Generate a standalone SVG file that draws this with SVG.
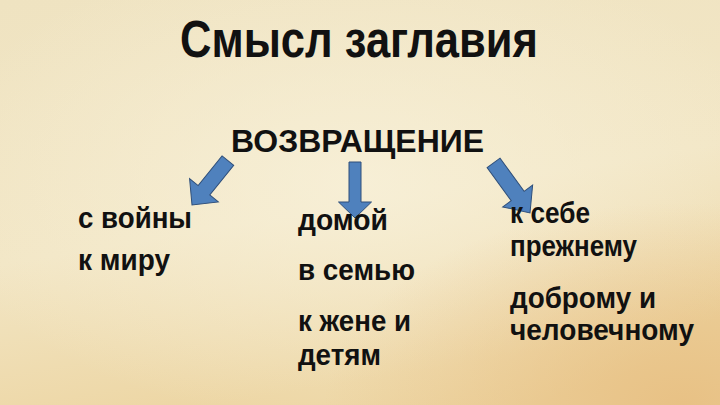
<svg xmlns="http://www.w3.org/2000/svg" width="720" height="405" viewBox="0 0 720 405">
  <defs>
    <linearGradient id="bg" x1="0" y1="0" x2="0.3" y2="1">
      <stop offset="0" stop-color="#efe3c1"/>
      <stop offset="0.6" stop-color="#f2e6c5"/>
      <stop offset="1" stop-color="#edd6a4"/>
    </linearGradient>
    <radialGradient id="glow" cx="0.5" cy="0.45" r="0.6">
      <stop offset="0" stop-color="#f8f1da" stop-opacity="0.8"/>
      <stop offset="1" stop-color="#f8f1da" stop-opacity="0"/>
    </radialGradient>
    <radialGradient id="burn" cx="0.95" cy="1" r="0.5">
      <stop offset="0" stop-color="#e6b877" stop-opacity="0.7"/>
      <stop offset="1" stop-color="#e6b877" stop-opacity="0"/>
    </radialGradient>
    <style>
      .t { font-family: "Liberation Sans", Arial, sans-serif; font-weight: bold; fill: #111; }
      .item { font-size: 30px; }
      .arrow { fill: #4f81bd; stroke: #2f4f7a; stroke-width: 1; stroke-linejoin: miter; }
    </style>
  </defs>
  <rect width="720" height="405" fill="url(#bg)"/>
  <rect width="720" height="405" fill="url(#glow)"/>
  <rect width="720" height="405" fill="url(#burn)"/>

  <g id="title">
    <text class="t" x="180" y="57" font-size="52" textLength="358" lengthAdjust="spacingAndGlyphs">Смысл заглавия</text>
  </g>
  <g id="root">
    <text class="t" x="231" y="152" font-size="32" textLength="253" lengthAdjust="spacingAndGlyphs">ВОЗВРАЩЕНИЕ</text>
  </g>

  <g id="connectors">
    <polygon class="arrow" transform="translate(192,205) rotate(39)" points="-7.5,-57 7.5,-57 7.5,-19 18.5,-19 0,0 -18.5,-19 -7.5,-19"/>
    <polygon class="arrow" transform="translate(355,218)" points="-6,-56 6,-56 6,-16 16.5,-16 0,0 -16.5,-16 -6,-16"/>
    <polygon class="arrow" transform="translate(530,213) rotate(-36)" points="-8,-62 8,-62 8,-21 18.5,-21 0,0 -18.5,-21 -8,-21"/>
  </g>

  <g id="col-left">
    <text class="t item" x="78" y="228" textLength="114" lengthAdjust="spacingAndGlyphs">с войны</text>
    <text class="t item" x="78" y="270" textLength="92" lengthAdjust="spacingAndGlyphs">к миру</text>
  </g>
  <g id="col-mid">
    <text class="t item" x="298" y="230" textLength="90" lengthAdjust="spacingAndGlyphs">домой</text>
    <text class="t item" x="298" y="280" textLength="117" lengthAdjust="spacingAndGlyphs">в семью</text>
    <text class="t item" x="298" y="331" textLength="113" lengthAdjust="spacingAndGlyphs">к жене и</text>
    <text class="t item" x="298" y="365" textLength="83" lengthAdjust="spacingAndGlyphs">детям</text>
  </g>
  <g id="col-right">
    <text class="t item" x="510" y="223" textLength="80" lengthAdjust="spacingAndGlyphs">к себе</text>
    <text class="t item" x="510" y="256" textLength="127" lengthAdjust="spacingAndGlyphs">прежнему</text>
    <text class="t item" x="510" y="308" textLength="146" lengthAdjust="spacingAndGlyphs">доброму и</text>
    <text class="t item" x="510" y="340" textLength="184" lengthAdjust="spacingAndGlyphs">человечному</text>
  </g>
</svg>
